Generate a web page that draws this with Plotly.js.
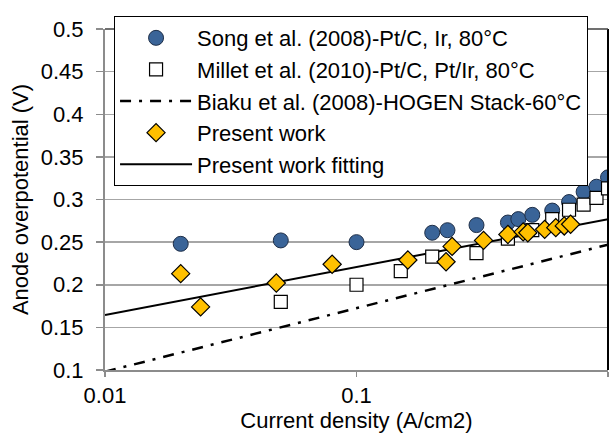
<!DOCTYPE html>
<html>
<head>
<meta charset="utf-8">
<script src="https://cdn.plot.ly/plotly-3.0.1.min.js"></script>
<style>
  html, body { margin: 0; padding: 0; background: #ffffff; }
  #chart { width: 609px; height: 433px; }
</style>
</head>
<body>
<div id="chart"></div>
<script>
// ---- Data ----
var songX = [0.02, 0.05, 0.1, 0.2, 0.23, 0.3, 0.4, 0.44, 0.5, 0.6, 0.7, 0.8, 0.9, 1.0];
var songY = [0.248, 0.252, 0.25, 0.261, 0.264, 0.27, 0.273, 0.277, 0.282, 0.287, 0.297, 0.309, 0.315, 0.326];

var milletX = [0.05, 0.1, 0.15, 0.2, 0.3, 0.4, 0.5, 0.6, 0.7, 0.8, 0.9, 1.0];
var milletY = [0.18, 0.20, 0.216, 0.233, 0.237, 0.254, 0.264, 0.277, 0.288, 0.294, 0.302, 0.313];

var biakuX = [0.01, 1.0];
var biakuY = [0.098, 0.247];

var presentX = [0.02, 0.024, 0.048, 0.08, 0.16, 0.227, 0.24, 0.32, 0.4, 0.46, 0.48, 0.56, 0.62, 0.67, 0.71];
var presentY = [0.213, 0.174, 0.202, 0.224, 0.229, 0.227, 0.245, 0.252, 0.259, 0.262, 0.261, 0.265, 0.267, 0.269, 0.271];

var fitX = [0.01, 1.0];
var fitY = [0.1645, 0.277];

var seriesNames = [
  "Song et al. (2008)-Pt/C, Ir, 80°C",
  "Millet et al. (2010)-Pt/C, Pt/Ir, 80°C",
  "Biaku et al. (2008)-HOGEN Stack-60°C",
  "Present work",
  "Present work fitting"
];

var xTickVals = [0.01, 0.1, 1];
var xTickText = ["0.01", "0.1", "1"];
var yTickVals = [0.1, 0.15, 0.2, 0.25, 0.3, 0.35, 0.4, 0.45, 0.5];
var yTickText = ["0.1", "0.15", "0.2", "0.25", "0.3", "0.35", "0.4", "0.45", "0.5"];

var xTitle = "Current density (A/cm2)";
var yTitle = "Anode overpotential (V)";

// ---- Traces ----
var FONT = "Liberation Sans, Arial, sans-serif";

var traces = [
  {
    x: biakuX, y: biakuY, name: seriesNames[2], mode: "lines", legendrank: 3,
    line: { color: "#000000", width: 2.5, dash: "11px,8px,3px,8px" }
  },
  {
    x: fitX, y: fitY, name: seriesNames[4], mode: "lines", legendrank: 5,
    line: { color: "#000000", width: 2 }
  },
  {
    x: songX, y: songY, name: seriesNames[0], mode: "markers", legendrank: 1,
    marker: { symbol: "circle", size: 15, color: "#3A6498", line: { color: "#1F2F48", width: 1 } }
  },
  {
    x: milletX, y: milletY, name: seriesNames[1], mode: "markers", legendrank: 2,
    marker: { symbol: "square", size: 13, color: "#FFFFFF", line: { color: "#000000", width: 1.2 } }
  },
  {
    x: presentX, y: presentY, name: seriesNames[3], mode: "markers", legendrank: 4,
    marker: { symbol: "diamond", size: 14, color: "#FFC000", line: { color: "#000000", width: 1.2 } }
  }
];

var layout = {
  width: 609, height: 433,
  margin: { l: 105, r: 1, t: 29, b: 63 },
  paper_bgcolor: "#ffffff", plot_bgcolor: "#ffffff",
  font: { family: FONT, size: 22, color: "#000000" },
  showlegend: true,
  legend: {
    x: 0.018, xanchor: "left", y: 1.038, yanchor: "top",
    bgcolor: "#ffffff", bordercolor: "#000000", borderwidth: 1,
    font: { family: FONT, size: 22, color: "#000000" },
    itemwidth: 72, tracegroupgap: 0
  },
  xaxis: {
    type: "log", range: [-2, 0],
    tickvals: xTickVals, ticktext: xTickText,
    showgrid: false, zeroline: false,
    showline: true, linecolor: "#8C8C8C", linewidth: 2,
    ticks: "outside", ticklen: 5, tickcolor: "#8C8C8C", tickwidth: 1.5,
    tickfont: { family: FONT, size: 22, color: "#000000" },
    title: { text: xTitle, font: { family: FONT, size: 22, color: "#000000" }, standoff: 8 }
  },
  yaxis: {
    range: [0.1, 0.5],
    tickvals: yTickVals, ticktext: yTickText,
    showgrid: true, gridcolor: "#A6A6A6", gridwidth: 1.5,
    zeroline: false,
    showline: true, linecolor: "#8C8C8C", linewidth: 2,
    ticks: "outside", ticklen: 7, tickcolor: "#8C8C8C", tickwidth: 1.5,
    ticklabelstandoff: 8,
    tickfont: { family: FONT, size: 22, color: "#000000" },
    title: { text: yTitle, font: { family: FONT, size: 22, color: "#000000" }, standoff: 6 }
  },
  shapes: [
    { type: "line", xref: "paper", yref: "paper", x0: 1, x1: 1, y0: 0, y1: 1,
      line: { color: "#000000", width: 2 } },
    { type: "line", xref: "paper", yref: "paper", x0: 0, x1: 1, y0: 1, y1: 1,
      line: { color: "#404040", width: 1.5 } }
  ]
};

Plotly.newPlot("chart", traces, layout, { displayModeBar: false, staticPlot: true });
</script>
</body>
</html>
